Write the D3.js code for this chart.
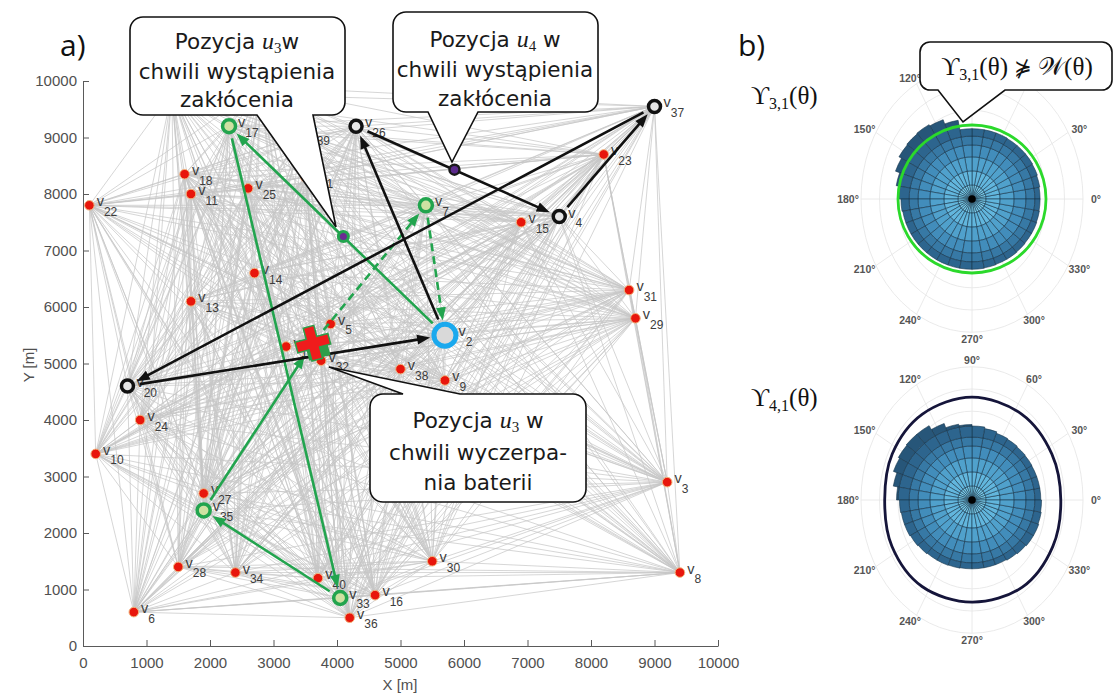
<!DOCTYPE html>
<html><head><meta charset="utf-8">
<script src="https://cdn.jsdelivr.net/npm/d3@7"></script>
<style>body{margin:0;background:#fff}svg{display:block}</style>
</head><body>
<svg id="fig" width="1118" height="695"></svg>
<script>
// ---------- network (metres) ----------
const nodeIds = [1,2,3,4,5,6,7,8,9,10,11,12,13,14,15,16,17,18,19,20,21,22,23,24,25,26,27,28,29,30,31,32,33,34,35,36,37,38,39,40];
const nodeX  = [1400,5700,9200,7500,3900,800,5400,9400,5700,200,1700,2800,1700,2700,6900,4600,2300,1600,3200,700,3500,100,8200,900,2600,4300,1900,1500,8700,5500,8600,3750,4050,2400,1900,4200,9000,5000,3450,3700];
const nodeY  = [9800,5500,2900,7600,5700,600,7800,1300,4700,3400,8000,9900,6100,6600,7500,900,9200,8350,5300,4600,8300,7800,8700,4000,8100,9200,2700,1400,5800,1500,6300,5050,850,1300,2400,500,9550,4900,9050,1200];
// nodes lying under the upper-left callout carry no label
const unlabelled = [1,12];

const greenNodes = [17,7,35,33];
const blackNodes = [26,37,4,20];
const blueNodes  = [2];
const crossPos = [3620,5360];   // u3 at battery depletion
const u3Event  = [4100,7250];   // u3 at disturbance
const u4Event  = [5850,8430];   // u4 at disturbance

// routes of u3 (green) and u4 (black)
const routeFrom   = [2,17,33,35,"X",7,2,26,4,37,20];
const routeTo     = [17,33,35,"X",7,2,26,4,37,20,2];
const routeColor  = ["g","g","g","g","g","g","k","k","k","k","k"];
const routeDashed = [false,false,false,false,true,true,false,false,false,false,false];

const xTicks = [0,1000,2000,3000,4000,5000,6000,7000,8000,9000,10000];
const yTicks = [0,1000,2000,3000,4000,5000,6000,7000,8000,9000,10000];

// ---------- polar histograms ----------
const sectorStart = [0,10,20,30,40,50,60,70,80,90,100,110,120,130,140,150,160,170,180,190,200,210,220,230,240,250,260,270,280,290,300,310,320,330,340,350];
const rose31 = [0.92,0.93,0.94,0.945,0.945,0.945,0.95,0.95,0.95,0.95,1.08,1.14,1.16,1.15,1.14,1.10,1.04,0.99,0.96,0.95,0.95,0.95,0.95,0.95,0.95,0.95,0.95,0.95,0.945,0.94,0.94,0.935,0.93,0.93,0.925,0.92];
const rose41 = [0.93,0.93,0.93,0.935,0.94,0.95,0.96,0.98,1.0,1.02,1.04,1.10,1.16,1.16,1.15,1.13,1.08,1.02,0.98,0.97,0.97,0.96,0.95,0.94,0.94,0.935,0.93,0.93,0.93,0.93,0.94,0.95,0.96,0.96,0.95,0.94];
const roseEdges  = [0,0.19,0.38,0.57,0.73,0.85];
const roseColors = ["#78cbea","#62b6dd","#50a1cc","#428dbb","#3779a5","#2d658e"];
const roseOuterColor = "#275679";
const wAngles = [0,30,60,90,120,150,180,210,240,270,300,330];
const w31 = [1,1,1,1,1,1,1,1,1,1,1,1];
const w41 = [1.20,1.245,1.34,1.39,1.34,1.245,1.18,1.25,1.35,1.38,1.36,1.26];
const gridRings = [0.25,0.5,0.75,1.0,1.25,1.5];
const polarTicks = [0,30,60,90,120,150,180,210,240,270,300,330];

const svg = d3.select("#fig");
const x = d3.scaleLinear().domain([0,10000]).range([83,718]);
const y = d3.scaleLinear().domain([0,10000]).range([646,81]);

const nodes = nodeIds.map((id,i)=>({id, X:nodeX[i], Y:nodeY[i]}));
const byId = new Map(nodes.map(n=>[n.id,n]));

// connectivity mesh
const mesh = d3.path();
for (let i=0;i<nodes.length;i++) for (let j=i+1;j<nodes.length;j++){
  mesh.moveTo(x(nodes[i].X), y(nodes[i].Y));
  mesh.lineTo(x(nodes[j].X), y(nodes[j].Y));
}
svg.append("path").attr("d", mesh.toString()).attr("fill","none")
  .attr("stroke","#c6c6c6").attr("stroke-width",0.8).attr("opacity",0.9);

// axes
const tickFont = "'Liberation Sans', Arial, sans-serif";
const gx = svg.append("g").attr("transform","translate(0,646)")
  .call(d3.axisBottom(x).tickValues(xTicks).tickFormat(d3.format("d")).tickSizeInner(-6).tickSizeOuter(0).tickPadding(11));
const gy = svg.append("g").attr("transform","translate(83,0)")
  .call(d3.axisLeft(y).tickValues(yTicks).tickFormat(d3.format("d")).tickSizeInner(-6).tickSizeOuter(0).tickPadding(6));
[gx,gy].forEach(g=>{
  g.select(".domain").attr("stroke","#5a5a5a");
  g.selectAll(".tick line").attr("stroke","#5a5a5a");
  g.selectAll("text").attr("font-family",tickFont).attr("font-size",15).attr("fill","#505050");
});
svg.append("text").attr("x",400).attr("y",690).attr("text-anchor","middle")
  .attr("font-family",tickFont).attr("font-size",15).attr("fill","#505050").text("X [m]");
svg.append("text").attr("transform","translate(34,365) rotate(-90)").attr("text-anchor","middle")
  .attr("font-family",tickFont).attr("font-size",15).attr("fill","#505050").text("Y [m]");

// node markers
const special = new Set([...greenNodes,...blackNodes,...blueNodes]);
svg.append("g").selectAll("circle").data(nodes.filter(n=>!special.has(n.id))).join("circle")
  .attr("cx",d=>x(d.X)).attr("cy",d=>y(d.Y)).attr("r",4.8)
  .attr("fill","#e8160c").attr("stroke","#f3b57c").attr("stroke-width",1);

function radiusOf(id){ if (blueNodes.includes(id)) return 11; if (greenNodes.includes(id)||blackNodes.includes(id)) return 6.5; return 4.8; }

// node labels
const lab = svg.append("g").attr("font-family",tickFont).attr("fill","#3c3c3c");
nodes.filter(n=>!unlabelled.includes(n.id)).forEach(n=>{
  const t = lab.append("text").attr("x", x(n.X)+radiusOf(n.id)+2.5).attr("y", y(n.Y)+1).attr("font-size",14.5);
  t.append("tspan").text("v");
  t.append("tspan").attr("font-size",12).attr("dy",9.5).text(n.id);
});

// routes with arrowheads
const colors = {g:"#22a44e", k:"#111111"};
const defs = svg.append("defs");
Object.entries(colors).forEach(([k,c])=>{
  defs.append("marker").attr("id","ah"+k).attr("viewBox","-10 -10 20 20")
    .attr("markerWidth",20).attr("markerHeight",20).attr("markerUnits","userSpaceOnUse")
    .attr("refX",0).attr("refY",0).attr("orient","auto")
    .append("path").attr("d","M-5,-5 L8,0 L-5,5 Z").attr("fill",c);
});
function pos(ref){ return ref==="X" ? [x(crossPos[0]),y(crossPos[1])] : [x(byId.get(ref).X),y(byId.get(ref).Y)]; }
function trimOf(ref){ if (ref==="X") return 15; return radiusOf(ref)+4; }
const rg = svg.append("g");
routeFrom.forEach((f,i)=>{
  const a = pos(f), b = pos(routeTo[i]);
  const dx=b[0]-a[0], dy=b[1]-a[1], L=Math.hypot(dx,dy), ux=dx/L, uy=dy/L;
  const s = trimOf(f)+2, e = trimOf(routeTo[i]) + 8;
  rg.append("line")
    .attr("x1",a[0]+ux*s).attr("y1",a[1]+uy*s)
    .attr("x2",b[0]-ux*e).attr("y2",b[1]-uy*e)
    .attr("stroke",colors[routeColor[i]]).attr("stroke-width",2.6)
    .attr("stroke-dasharray",routeDashed[i]?"8,5":null)
    .attr("marker-end",`url(#ah${routeColor[i]})`);
});

// special markers
const sm = svg.append("g");
greenNodes.forEach(id=>{ const p=pos(id); sm.append("circle").attr("cx",p[0]).attr("cy",p[1]).attr("r",6.5)
  .attr("fill","#cfe1a2").attr("stroke","#22a44e").attr("stroke-width",3.5); });
blackNodes.forEach(id=>{ const p=pos(id); sm.append("circle").attr("cx",p[0]).attr("cy",p[1]).attr("r",6)
  .attr("fill","#e6e6e6").attr("stroke","#111").attr("stroke-width",3.5); });
blueNodes.forEach(id=>{ const p=pos(id); sm.append("circle").attr("cx",p[0]).attr("cy",p[1]).attr("r",11)
  .attr("fill","#d9d9d9").attr("stroke","#1aa9ee").attr("stroke-width",5); });
sm.append("circle").attr("cx",x(u3Event[0])).attr("cy",y(u3Event[1])).attr("r",5)
  .attr("fill","#6a2c91").attr("stroke","#22a44e").attr("stroke-width",3);
sm.append("circle").attr("cx",x(u4Event[0])).attr("cy",y(u4Event[1])).attr("r",5)
  .attr("fill","#5b2a8c").attr("stroke","#1a1a1a").attr("stroke-width",2.5);
// battery depletion cross
const cg = sm.append("g").attr("transform",`translate(${x(crossPos[0])},${y(crossPos[1])}) rotate(-15)`);
cg.append("rect").attr("x",-8).attr("y",-6).attr("width",22).attr("height",22).attr("fill","#2e9e4a");
cg.append("path").attr("d","M-5.5,-17 H5.5 V-5.5 H17 V5.5 H5.5 V17 H-5.5 V5.5 H-17 V-5.5 H-5.5 Z")
  .attr("fill","#f01c1c").attr("stroke","#2e9e4a").attr("stroke-width",1.5);

// callouts
function calloutPath(bx,by,w,h,r,side,b0,b1,tip){
  const R=bx+w, B=by+h;
  let d = `M${bx+r},${by}`;
  if (side==="top") d += ` H${b0} L${tip[0]},${tip[1]} L${b1},${by}`;
  d += ` H${R-r} A${r},${r} 0 0 1 ${R},${by+r} V${B-r} A${r},${r} 0 0 1 ${R-r},${B}`;
  if (side==="bottom") d += ` H${b1} L${tip[0]},${tip[1]} L${b0},${B}`;
  d += ` H${bx+r} A${r},${r} 0 0 1 ${bx},${B-r} V${by+r} A${r},${r} 0 0 1 ${bx+r},${by} Z`;
  return d;
}
const boxFont = "'DejaVu Sans', Verdana, sans-serif";
const mathFont = "'Liberation Serif', 'DejaVu Serif', serif";
function callout(box, lines, cxText, baselines){
  svg.append("path").attr("d",calloutPath(...box)).attr("fill","#fff").attr("stroke","#111").attr("stroke-width",1.6);
  lines.forEach((ln,i)=>{
    const t = svg.append("text").attr("x",cxText).attr("y",baselines[i]).attr("text-anchor","middle")
      .attr("font-family",boxFont).attr("font-size",21.5).attr("fill","#1a1a1a");
    ln.forEach(seg=>{
      const s = t.append("tspan").text(seg.t);
      if (seg.m) s.attr("font-family",mathFont).attr("font-style","italic").attr("font-size",24);
      if (seg.sub) s.attr("font-family",mathFont).attr("font-size",15).attr("dy",seg.sub);
      if (seg.dy) s.attr("dy",seg.dy);
    });
  });
}
callout([130,17,215,98,13,"bottom",257,313,[336,227]],
  [[{t:"Pozycja "},{t:"u",m:1},{t:"3",sub:4},{t:"w",dy:-4}],[{t:"chwili wystąpienia"}],[{t:"zakłócenia"}]],
  237,[49,79,107]);
callout([393,12,205,100,13,"bottom",428,478,[452,162]],
  [[{t:"Pozycja "},{t:"u",m:1},{t:"4",sub:4},{t:" w",dy:-4}],[{t:"chwili wystąpienia"}],[{t:"zakłócenia"}]],
  495,[47,77,106]);
callout([370,394,216,108,13,"top",403,460,[329,367]],
  [[{t:"Pozycja "},{t:"u",m:1},{t:"3",sub:4},{t:" w",dy:-4}],[{t:"chwili wyczerpa-"}],[{t:"nia baterii"}]],
  478,[428,460,490]);

// panel letters
svg.append("text").attr("x",60).attr("y",56).attr("font-family","'Open Sans', sans-serif").attr("font-size",30).attr("fill","#111").text("a)");
svg.append("text").attr("x",738).attr("y",56).attr("font-family","'Open Sans', sans-serif").attr("font-size",30).attr("fill","#111").text("b)");

// ---------- polar plots ----------
const rP = d3.scaleLinear().domain([0,1.5]).range([0,111]);
const stretch = 1.2;
const rad = a => a*Math.PI/180;
function drawPolar(cx, cy, rose, wVals, wColor, wWidth){
  const g = svg.append("g").attr("transform",`translate(${cx},${cy})`);
  gridRings.forEach(v=> g.append("ellipse").attr("rx",rP(v)).attr("ry",rP(v)*stretch)
    .attr("fill","none").attr("stroke","#e8e8e8").attr("stroke-width",0.9));
  polarTicks.forEach(a=>{
    g.append("line").attr("x2",rP(1.5)*Math.cos(rad(a))).attr("y2",-rP(1.5)*stretch*Math.sin(rad(a)))
      .attr("stroke","#e8e8e8").attr("stroke-width",0.9);
    g.append("text").attr("x",124*Math.cos(rad(a))).attr("y",-140*Math.sin(rad(a)))
      .attr("text-anchor","middle").attr("dominant-baseline","central")
      .attr("font-family",tickFont).attr("font-weight","bold").attr("font-size",10.5).attr("fill","#555")
      .text(a+"°");
  });
  const arc = d3.arc();
  sectorStart.forEach((a0,k)=>{
    const R = rose[k];
    const sa = rad(90-(a0+10)), ea = rad(90-a0);
    roseEdges.forEach((e0,L)=>{
      const e1 = L<roseEdges.length-1 ? roseEdges[L+1] : Math.min(R,1.0);
      g.append("path").attr("d",arc({innerRadius:rP(e0),outerRadius:rP(e1),startAngle:sa,endAngle:ea}))
        .attr("fill",roseColors[L]).attr("stroke","#17364c").attr("stroke-width",0.6);
    });
    if (R>1.0) g.append("path").attr("d",arc({innerRadius:rP(1.0),outerRadius:rP(R),startAngle:sa,endAngle:ea}))
        .attr("fill",roseOuterColor).attr("stroke","#17364c").attr("stroke-width",0.6);
  });
  g.append("circle").attr("r",3.8).attr("fill","#000");
  const line = d3.lineRadial().angle(d=>rad(90-d.a)).radius(d=>rP(d.r)).curve(d3.curveCatmullRomClosed);
  g.append("path").attr("d",line(wAngles.map((a,i)=>({a,r:wVals[i]}))))
    .attr("fill","none").attr("stroke",wColor).attr("stroke-width",wWidth);
}
drawPolar(972,199,rose31,w31,"#2bd92b",2.8);
drawPolar(972,500,rose41,w41,"#15153a",2.8);

function upsLabel(px,py,sub){
  const t = svg.append("text").attr("x",px).attr("y",py).attr("font-family",mathFont).attr("font-size",25).attr("fill","#111");
  t.append("tspan").text("ϒ");
  t.append("tspan").attr("font-size",16).attr("dy",5).text(sub);
  t.append("tspan").attr("dy",-5).text("(θ)");
}
upsLabel(751,104,"3,1");
upsLabel(751,406,"4,1");

// condition callout
svg.append("path").attr("d",calloutPath(920,42,192,48,10,"bottom",938,1005,[963,122]))
  .attr("fill","#fff").attr("stroke","#111").attr("stroke-width",1.6);
const ct = svg.append("text").attr("x",1017).attr("y",75).attr("text-anchor","middle")
  .attr("font-family",mathFont).attr("font-size",25).attr("fill","#111");
ct.append("tspan").text("ϒ");
ct.append("tspan").attr("font-size",16).attr("dy",5).text("3,1");
ct.append("tspan").attr("dy",-5).text("(θ) ");
ct.append("tspan").attr("font-family","'DejaVu Sans', sans-serif").attr("font-size",21).text("⋡");
ct.append("tspan").text(" 𝒲(θ)");
</script>
</body></html>
